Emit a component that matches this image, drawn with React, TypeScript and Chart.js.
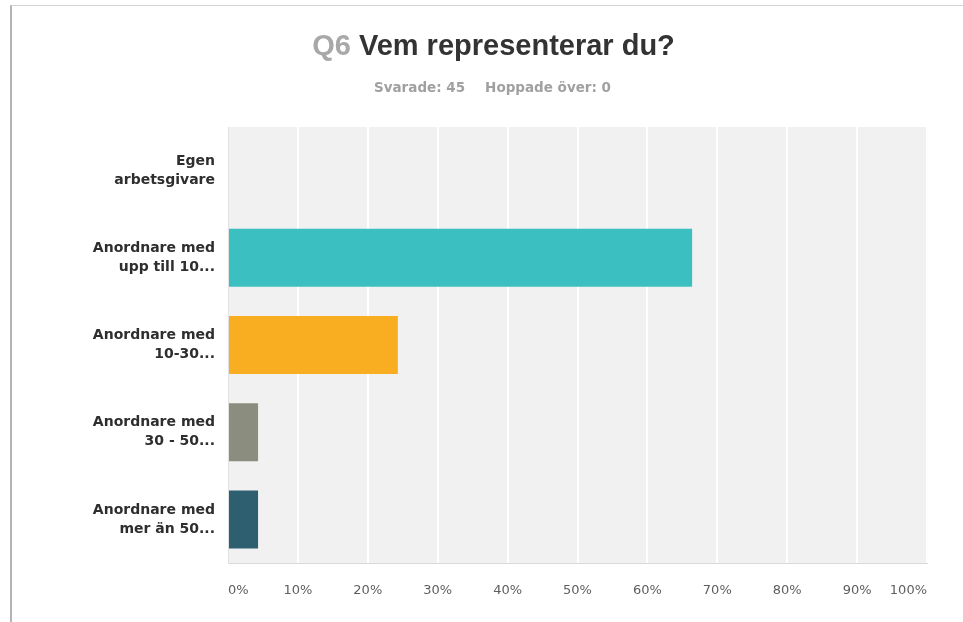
import React, { useEffect, useRef } from "react";
import { Chart, registerables } from "chart.js";

Chart.register(...registerables);

const categories: string[][] = [
  ["Egen", "arbetsgivare"],
  ["Anordnare med", "upp till 10..."],
  ["Anordnare med", "10-30..."],
  ["Anordnare med", "30 - 50..."],
  ["Anordnare med", "mer än 50..."],
];
const values: number[] = [0, 66.4, 24.3, 4.3, 4.3];
const barColors: string[] = ["#3bbfc1", "#3bbfc1", "#f9ae22", "#8b8e7e", "#2d5f70"];
const xMin = 0;
const xMax = 100;
const xStep = 10;

const plotBg = {
  id: "plotBg",
  beforeDraw(chart: any) {
    const { ctx, chartArea } = chart;
    if (!chartArea) return;
    ctx.save();
    ctx.fillStyle = "#f1f1f1";
    ctx.fillRect(chartArea.left, chartArea.top, chartArea.right - chartArea.left, chartArea.bottom - chartArea.top);
    ctx.restore();
  },
};

export default function App() {
  const ref = useRef<HTMLCanvasElement | null>(null);

  useEffect(() => {
    if (!ref.current) return;
    const chart = new Chart(ref.current, {
      type: "bar",
      data: {
        labels: categories,
        datasets: [
          {
            data: values,
            backgroundColor: barColors,
            borderWidth: 0,
            categoryPercentage: 1,
            barPercentage: 0.665,
          },
        ],
      },
      options: {
        indexAxis: "y",
        responsive: false,
        animation: false,
        devicePixelRatio: 1,
        layout: { padding: { top: 127, right: 36, left: 0, bottom: 0 } },
        plugins: { legend: { display: false }, tooltip: { enabled: false } },
        scales: {
          x: {
            min: xMin,
            max: xMax,
            ticks: {
              stepSize: xStep,
              callback: (v: any) => v + "%",
              align: "inner",
              color: "#5e5e5e",
              font: { family: "DejaVu Sans", size: 13 },
              padding: 20,
            },
            grid: { color: "#ffffff", lineWidth: 2, drawTicks: false },
            border: { display: true, color: "#d9d9d9", width: 1 },
            afterFit: (s: any) => {
              s.height = 59;
            },
          },
          y: {
            ticks: {
              color: "#2e2e2e",
              font: { family: "DejaVu Sans", size: 14, weight: "bold", lineHeight: 1.36 },
              padding: 13,
            },
            grid: { display: false, drawTicks: false },
            border: { display: true, color: "#e2e2e2", width: 1 },
            afterFit: (s: any) => {
              s.width = 228;
            },
          },
        },
      },
      plugins: [plotBg],
    } as any);
    return () => chart.destroy();
  }, []);

  return (
    <div style={{ position: "absolute", left: 0, top: 0, width: 963, height: 622, background: "#ffffff", overflow: "hidden" }}>
      <div
        style={{
          position: "absolute",
          left: 10,
          top: 5,
          width: 960,
          height: 630,
          borderLeft: "2px solid #b4b4b4",
          borderTop: "1px solid #d2d2d2",
        }}
      />
      <canvas ref={ref} width={963} height={622} style={{ position: "absolute", left: 0, top: 0, width: 963, height: 622 }} />
      <div
        style={{
          position: "absolute",
          left: 24,
          top: 28,
          width: 939,
          textAlign: "center",
          fontFamily: "'Liberation Sans', Arial, sans-serif",
          fontWeight: "bold",
          fontSize: 29,
          lineHeight: "34px",
          color: "#333333",
          whiteSpace: "nowrap",
        }}
      >
        <span style={{ color: "#a8a8a8" }}>Q6</span> Vem representerar du?
      </div>
      <div
        style={{
          position: "absolute",
          left: 22,
          top: 79,
          width: 941,
          textAlign: "center",
          fontFamily: "'DejaVu Sans', sans-serif",
          fontWeight: "bold",
          fontSize: 13.5,
          lineHeight: "16px",
          color: "#a0a0a0",
          whiteSpace: "nowrap",
        }}
      >
        <span>Svarade: 45</span>
        <span style={{ marginLeft: 20 }}>Hoppade över: 0</span>
      </div>
    </div>
  );
}
